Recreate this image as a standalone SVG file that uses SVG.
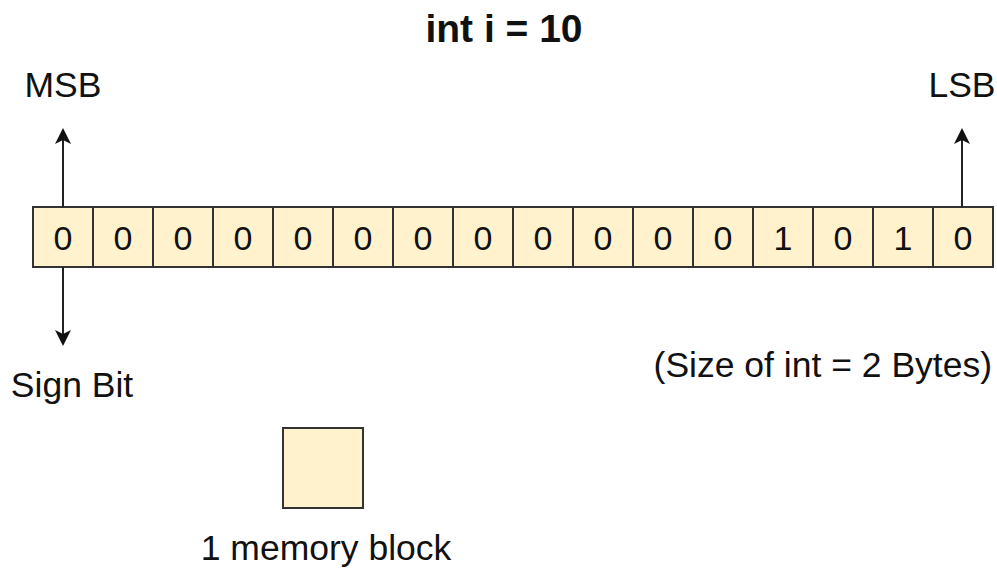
<svg xmlns="http://www.w3.org/2000/svg" width="997" height="568" viewBox="0 0 997 568">
  <style>
    .cell { fill: #FFF2CC; stroke: #333; stroke-width: 2; }
    .bit { font-family: "Liberation Sans", Arial, sans-serif; font-size: 34px; fill: #111; text-anchor: middle; }
    .label { font-family: "Liberation Sans", Arial, sans-serif; font-size: 35.5px; fill: #111; }
    .title { font-family: "Liberation Sans", Arial, sans-serif; font-size: 39px; font-weight: bold; fill: #111; text-anchor: middle; }
    .conn { stroke: #222; stroke-width: 2; fill: none; marker-end: url(#arrow); }
  </style>
  <defs>
    <marker id="arrow" viewBox="0 0 16 16" markerUnits="userSpaceOnUse" markerWidth="16" markerHeight="16" refX="12" refY="8" orient="auto">
      <path d="M0,0 L16,8 L0,16 L4,8 Z" fill="#111"/>
    </marker>
  </defs>
  <rect width="997" height="568" fill="#fff"/>

  <g id="title"><text class="title" x="504" y="42">int i = 10</text></g>

  <g id="register">
    <rect class="cell" x="33" y="207" width="60" height="60"/>
    <rect class="cell" x="93" y="207" width="60" height="60"/>
    <rect class="cell" x="153" y="207" width="60" height="60"/>
    <rect class="cell" x="213" y="207" width="60" height="60"/>
    <rect class="cell" x="273" y="207" width="60" height="60"/>
    <rect class="cell" x="333" y="207" width="60" height="60"/>
    <rect class="cell" x="393" y="207" width="60" height="60"/>
    <rect class="cell" x="453" y="207" width="60" height="60"/>
    <rect class="cell" x="513" y="207" width="60" height="60"/>
    <rect class="cell" x="573" y="207" width="60" height="60"/>
    <rect class="cell" x="633" y="207" width="60" height="60"/>
    <rect class="cell" x="693" y="207" width="60" height="60"/>
    <rect class="cell" x="753" y="207" width="60" height="60"/>
    <rect class="cell" x="813" y="207" width="60" height="60"/>
    <rect class="cell" x="873" y="207" width="60" height="60"/>
    <rect class="cell" x="933" y="207" width="60" height="60"/>
    <text class="bit" x="63" y="250">0</text>
    <text class="bit" x="123" y="250">0</text>
    <text class="bit" x="183" y="250">0</text>
    <text class="bit" x="243" y="250">0</text>
    <text class="bit" x="303" y="250">0</text>
    <text class="bit" x="363" y="250">0</text>
    <text class="bit" x="423" y="250">0</text>
    <text class="bit" x="483" y="250">0</text>
    <text class="bit" x="543" y="250">0</text>
    <text class="bit" x="603" y="250">0</text>
    <text class="bit" x="663" y="250">0</text>
    <text class="bit" x="723" y="250">0</text>
    <text class="bit" x="783" y="250">1</text>
    <text class="bit" x="843" y="250">0</text>
    <text class="bit" x="903" y="250">1</text>
    <text class="bit" x="963" y="250">0</text>
  </g>

  <g id="msb"><text class="label" x="63" y="97" text-anchor="middle">MSB</text></g>
  <g id="lsb"><text class="label" x="962" y="97" text-anchor="middle">LSB</text></g>
  <g id="sign-bit"><text class="label" x="72" y="397" text-anchor="middle">Sign Bit</text></g>
  <g id="size-note"><text class="label" x="992" y="377" text-anchor="end">(Size of int = 2 Bytes)</text></g>

  <g id="memory-block">
    <rect class="cell" x="283" y="428" width="80" height="80"/>
    <text class="label" x="326" y="560" text-anchor="middle">1 memory block</text>
  </g>

  <g id="connectors">
    <line class="conn" x1="63" y1="207" x2="63" y2="132"/>
    <line class="conn" x1="63" y1="267" x2="63" y2="342"/>
    <line class="conn" x1="962" y1="207" x2="962" y2="132"/>
  </g>
</svg>
